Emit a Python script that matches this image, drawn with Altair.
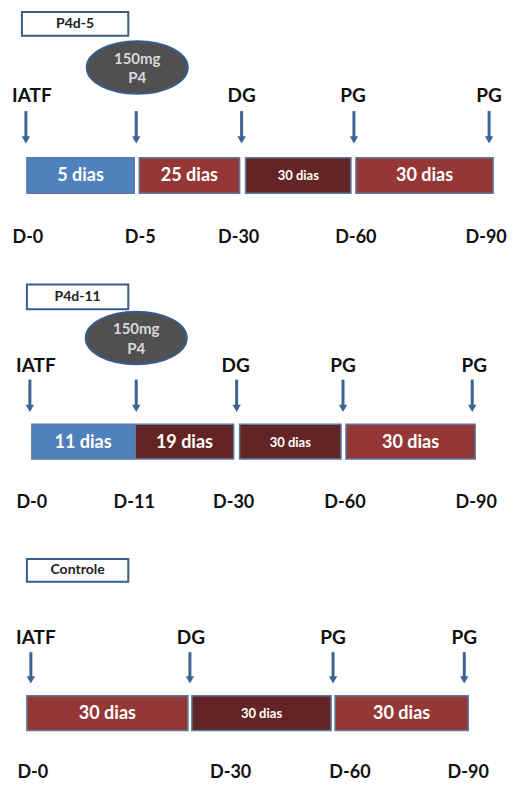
import altair as alt
import pandas as pd

# ---------------- content ----------------
panels = ["P4d-5", "P4d-11", "Controle"]
event_labels = [["IATF", "", "DG", "PG", "PG"],
                ["IATF", "", "DG", "PG", "PG"],
                ["IATF", "DG", "PG", "PG"]]
day_labels = [["D-0", "D-5", "D-30", "D-60", "D-90"],
              ["D-0", "D-11", "D-30", "D-60", "D-90"],
              ["D-0", "D-30", "D-60", "D-90"]]
seg_labels = [["5 dias", "25 dias", "30 dias", "30 dias"],
              ["11 dias", "19 dias", "30 dias", "30 dias"],
              ["30 dias", "30 dias", "30 dias"]]
seg_kinds = [["p4", "wait", "gest", "post"],
             ["p4", "gest", "gest", "post"],
             ["wait", "gest", "post"]]
dose_lines = ["150mg", "P4"]
dose_panels = [0, 1]

# ---------------- layout (reference page pixels) ----------------
box_x = [(22, 129), (27, 129), (27, 129)]
box_y = [(12, 36), (287, 312), (564, 587)]
ell_c = [(138, 68), (137, 341)]
label_y = [97, 369, 644]
label_x = [[32, None, 243, 355, 492], [36, None, 237, 345, 477], [36, 192, 335, 467]]
arrow_x = [[26, 137, 243, 356, 492], [30, 137, 238, 345, 475], [31, 191, 335, 467]]
arrow_y = [(112, 141), (383, 412), (658, 686)]
bar_x = [[(27, 135), (140, 241), (247, 353), (358, 496)],
         [(32, 135), (136, 235), (241, 343), (348, 478)],
         [(27, 189), (193, 333), (337, 471)]]
bar_y = [(159, 195), (428, 463), (702, 737)]
seg_font = [[18, 18, 13, 18], [18, 18, 13, 18], [18, 13, 18]]
day_x = [[28, 141, 240, 358, 489], [32, 135, 235, 347, 479], [33, 232, 352, 471]]
day_y = [240, 507, 780]

FONT = "Lato"
ARROW = "#3B6494"

boxes, bars, events, arrows, days, ells, dose = [], [], [], [], [], [], []
for p, name in enumerate(panels):
    boxes.append(dict(x=box_x[p][0], x2=box_x[p][1], y=box_y[p][0], y2=box_y[p][1],
                      tx=(box_x[p][0] + box_x[p][1]) / 2, ty=(box_y[p][0] + box_y[p][1]) / 2, t=name))
    for i, lab in enumerate(seg_labels[p]):
        x0, x1 = bar_x[p][i]
        bars.append(dict(x=x0, x2=x1, y=bar_y[p][0], y2=bar_y[p][1], kind=seg_kinds[p][i],
                         tx=(x0 + x1) / 2, ty=(bar_y[p][0] + bar_y[p][1]) / 2 + 1, t=lab,
                         fs=seg_font[p][i]))
    for i, lab in enumerate(event_labels[p]):
        if lab:
            events.append(dict(x=label_x[p][i], y=label_y[p], t=lab))
    for ax in arrow_x[p]:
        arrows.append(dict(x=ax, y=arrow_y[p][0], y2=arrow_y[p][1]))
    for i, lab in enumerate(day_labels[p]):
        days.append(dict(x=day_x[p][i], y=day_y[p], t=lab))
for k, p in enumerate(dose_panels):
    cx, cy = ell_c[k]
    ells.append(dict(x=cx, y=cy))
    for j, line in enumerate(dose_lines):
        dose.append(dict(x=cx, y=cy - 9 + 20 * j, t=line))

W, H = 502, 773
X = alt.Scale(domain=[8, 513], nice=False, zero=False)
Y = alt.Scale(domain=[788, 8], nice=False, zero=False)


def xq(f="x"):
    return alt.X(f"{f}:Q", scale=X, axis=None)


def yq(f="y"):
    return alt.Y(f"{f}:Q", scale=Y, axis=None)


box_df = pd.DataFrame(boxes)
bar_df = pd.DataFrame(bars)
ev_df = pd.DataFrame(events)
ar_df = pd.DataFrame(arrows)
day_df = pd.DataFrame(days)
ell_df = pd.DataFrame(ells)
dose_df = pd.DataFrame(dose)

box_rect = alt.Chart(box_df).mark_rect(fill="white", stroke="#385D8A", strokeWidth=2).encode(
    x=xq(), x2="x2:Q", y=yq(), y2="y2:Q")
box_text = alt.Chart(box_df).mark_text(font=FONT, fontWeight="bold", fontSize=14, color="#222222",
                                       baseline="middle").encode(x=xq("tx"), y=yq("ty"), text="t:N")

bar_rect = alt.Chart(bar_df).mark_rect(stroke="#5B7AA3", strokeWidth=1.5).encode(
    x=xq(), x2="x2:Q", y=yq(), y2="y2:Q",
    fill=alt.Fill("kind:N", legend=None,
                  scale=alt.Scale(domain=["p4", "wait", "gest", "post"],
                                  range=["#4F81BD", "#953735", "#632523", "#953735"])))
bar_text = alt.Chart(bar_df).mark_text(font=FONT, fontWeight="bold", color="white",
                                       baseline="middle").encode(
    x=xq("tx"), y=yq("ty"), text="t:N", size=alt.Size("fs:Q", scale=None, legend=None))

ev_text = alt.Chart(ev_df).mark_text(font=FONT, fontWeight="bold", fontSize=19, color="#111111",
                                     baseline="middle").encode(x=xq(), y=yq(), text="t:N")
day_text = alt.Chart(day_df).mark_text(font=FONT, fontWeight="bold", fontSize=18, color="#111111",
                                       baseline="middle").encode(x=xq(), y=yq(), text="t:N")

ar_shaft = alt.Chart(ar_df).mark_rule(color=ARROW, strokeWidth=3).encode(x=xq(), y=yq(), y2="y2:Q")
ar_head = alt.Chart(ar_df).mark_point(shape="triangle-down", filled=True, size=70, color=ARROW,
                                      opacity=1).encode(x=xq(), y=yq("y2"))

ell_mark = alt.Chart(ell_df).mark_point(
    shape="M-1,0A1,0.52,0,1,1,1,0A1,0.52,0,1,1,-1,0Z", size=101 * 101, filled=True,
    fill="#505050", stroke="#385D8A", strokeWidth=2, opacity=1, fillOpacity=1).encode(x=xq(), y=yq())
dose_text = alt.Chart(dose_df).mark_text(font=FONT, fontWeight="bold", fontSize=15, color="#D9D9D9",
                                         baseline="middle").encode(x=xq(), y=yq(), text="t:N")

chart = alt.layer(
    box_rect, box_text, bar_rect, bar_text, ar_shaft, ar_head, ev_text, day_text, ell_mark, dose_text
).properties(width=W, height=H, padding=0, background="white",
             autosize=alt.AutoSizeParams(type="none")).configure_view(stroke=None)

chart.save("out.html", embed_options={"renderer": "svg", "actions": False})
